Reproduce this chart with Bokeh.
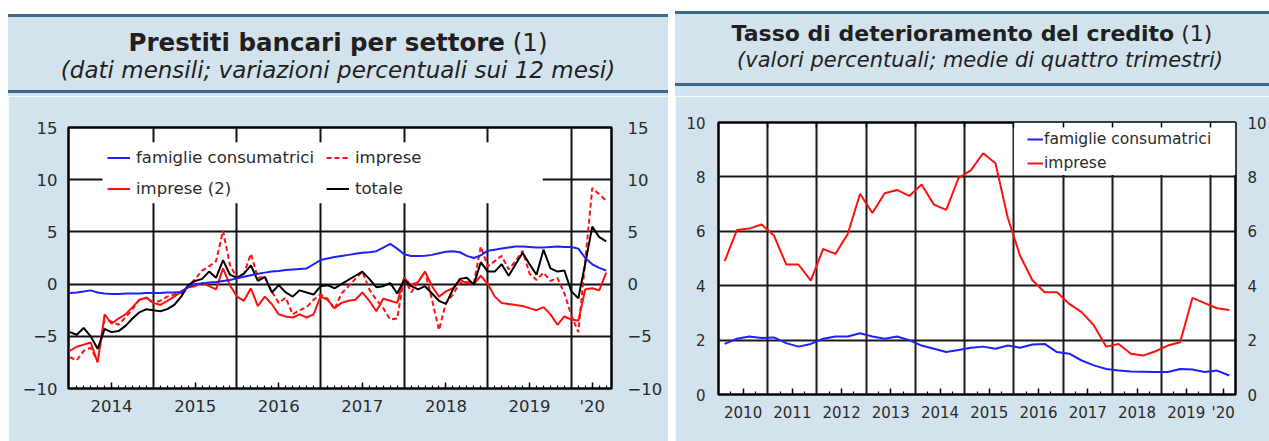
from bokeh.plotting import figure
from bokeh.models import (LinearAxis, FixedTicker, Legend, LegendItem, BoxAnnotation,
                          Div, Range1d, Spacer)
from bokeh.layouts import row, column
from bokeh.embed import file_html
from bokeh.resources import INLINE

# ---------------- data: left chart (monthly, Jan 2014 - Jun 2020) ----------------
famiglie_m = [-0.85, -0.8, -0.7, -0.6, -0.8, -0.9, -0.95, -0.95, -0.9, -0.9, -0.9, -0.85,
              -0.85, -0.85, -0.8, -0.8, -0.75, -0.3, 0.0, 0.05, 0.15, 0.2, 0.3, 0.4,
              0.55, 0.7, 0.85, 1.0, 1.1, 1.2, 1.25, 1.35, 1.4, 1.45, 1.5, 1.9,
              2.3, 2.45, 2.6, 2.7, 2.8, 2.9, 3.0, 3.05, 3.15, 3.5, 3.85, 3.4,
              2.85, 2.7, 2.7, 2.72, 2.8, 2.95, 3.1, 3.15, 3.05, 2.7, 2.5, 2.75,
              3.2, 3.3, 3.4, 3.5, 3.6, 3.6, 3.55, 3.5, 3.5, 3.55, 3.6, 3.55,
              3.55, 3.4, 2.5, 1.9, 1.55, 1.3]
imprese_m = [-7.0, -7.3, -6.4, -6.1, -7.4, -3.4, -3.6, -3.9, -3.2, -2.4, -1.5, -1.3,
             -1.8, -1.6, -1.2, -1.0, -0.85, -0.2, 0.5, 1.3, 1.7, 2.2, 5.1, 1.8,
             0.6, 1.0, 2.9, 0.6, 0.7, -0.7, -1.8, -1.3, -2.9, -2.5, -2.2, -1.5,
             -1.0, -1.4, -2.4, -0.9, -0.2, 0.5, 1.2, -0.5, -1.5, -2.3, -3.4, -3.3,
             0.7, -0.8, 0.2, 1.2, -1.5, -4.4, -1.8, -1.0, 0.1, 0.2, 0.1, 3.6,
             1.7, 2.2, 2.7, 1.4, 2.2, 3.2, 1.0, 0.4, 1.1, 0.3, 0.6, -0.9,
             -3.0, -4.6, 2.3, 9.2, 8.6, 8.0]
imprese2_m = [-6.4, -6.0, -5.8, -5.6, -7.5, -2.9, -3.8, -3.3, -2.9, -2.2, -1.5, -1.3,
              -1.8, -2.0, -1.6, -1.2, -0.7, -0.3, -0.2, 0.1, -0.2, -0.5, 1.5, -0.1,
              -1.2, -1.6, -0.4, -2.1, -1.2, -1.9, -2.9, -3.1, -3.2, -2.9, -3.2, -2.9,
              -1.2, -1.5, -2.3, -1.8, -1.6, -1.5, -0.8, -1.6, -2.6, -1.4, -1.6, -1.8,
              0.6, -0.1, 0.2, 1.2, -0.2, -1.2, -0.7, -0.4, 0.4, 0.1, 0.0, 0.8,
              0.0, -1.2, -1.8, -1.9, -2.0, -2.1, -2.3, -2.5, -2.2, -2.9, -3.9, -3.1,
              -3.4, -3.5, -0.5, -0.4, -0.6, 1.1]
totale_m = [-4.6, -4.85, -4.2, -5.0, -6.2, -4.3, -4.6, -4.5, -4.0, -3.3, -2.7, -2.4,
            -2.5, -2.6, -2.4, -2.0, -1.2, -0.1, 0.3, 0.5, 1.2, 0.6, 2.3, 0.9,
            0.6, 1.0, 1.8, 0.3, 0.7, -0.8, -0.1, -0.8, -1.2, -0.6, -0.8, -1.0,
            -0.2, -0.1, -0.4, 0.0, 0.4, 0.8, 1.2, 0.5, -0.3, -0.2, 0.1, -0.9,
            0.4, -0.2, -0.5, -0.2, -0.9, -1.6, -1.9, -0.5, 0.5, 0.6, -0.05, 2.1,
            1.2, 1.2, 1.9, 0.8, 1.9, 3.0, 1.9, 0.9, 3.3, 1.5, 1.2, 1.3,
            -0.7, -1.35, 2.0, 5.5, 4.5, 4.1]
left_years = [2014, 2015, 2016, 2017, 2018, 2019, 2020]
left_year_labels = ["2014", "2015", "2016", "2017", "2018", "2019", "'20"]
left_y_ticks = [-10, -5, 0, 5, 10, 15]

# ---------------- data: right chart (quarterly, 2010 Q1 - 2020 Q2) ----------------
famiglie_q = [1.86, 2.05, 2.13, 2.08,
              2.1, 1.89, 1.76, 1.86,
              2.05, 2.13, 2.13, 2.25,
              2.13, 2.05, 2.13, 2.0,
              1.8, 1.68, 1.56, 1.64,
              1.72, 1.76, 1.68, 1.8,
              1.72, 1.84, 1.86, 1.56,
              1.5, 1.25, 1.07, 0.94,
              0.88, 0.85, 0.84, 0.83,
              0.83, 0.94, 0.92, 0.83,
              0.88, 0.7]
imprese_q = [4.9, 6.05, 6.1, 6.25,
             5.85, 4.78, 4.78, 4.19,
             5.35, 5.17, 5.9, 7.38,
             6.67, 7.4, 7.52, 7.3,
             7.72, 6.98, 6.79, 7.96,
             8.24, 8.87, 8.5, 6.5,
             5.1, 4.2, 3.76, 3.76,
             3.33, 3.03, 2.54, 1.76,
             1.86, 1.5, 1.43, 1.59,
             1.8, 1.92, 3.55, 3.36,
             3.17, 3.11]
right_years = [2010, 2011, 2012, 2013, 2014, 2015, 2016, 2017, 2018, 2019, 2020]
right_year_labels = ["2010", "2011", "2012", "2013", "2014", "2015", "2016",
                     "2017", "2018", "2019", "'20"]
right_y_ticks = [0, 2, 4, 6, 8, 10]

# ---------------- styling ----------------
FONT = "DejaVu Sans"
BG = "#d3e3ed"
RULE = "#3b6b88"
TXT = "#2a2a2a"
BLUE = "#1f1fff"
RED = "#ff1010"


def year_label_positions(years):
    return [y + 0.5 for y in years[:-1]] + [years[-1] + 0.25]


t_m = [left_years[0] + i / 12 for i in range(len(famiglie_m))]
t_q = [right_years[0] + (i + 0.5) / 4 for i in range(len(famiglie_q))]


def header(width, height, top_rule, bottom_rule, title, subtitle, t_top, t_size, s_top, s_size, s_shift=0):
    html = f"""
<div style="position:relative;width:{width}px;height:{height}px;background:#ffffff;font-family:'{FONT}',sans-serif;color:#231f20;">
  <div style="position:absolute;left:0;top:{top_rule}px;width:{width}px;height:{height - top_rule}px;background:{BG};"></div>
  <div style="position:absolute;left:0;top:{top_rule}px;width:{width}px;height:3px;background:{RULE};"></div>
  <div style="position:absolute;left:0;top:{bottom_rule}px;width:{width}px;height:3px;background:{RULE};"></div>
  <div style="position:absolute;left:0;top:{t_top}px;width:{width}px;text-align:center;font-size:{t_size}px;line-height:{t_size + 4}px;white-space:nowrap;"><b>{title}</b> (1)</div>
  <div style="position:absolute;left:{s_shift}px;top:{s_top}px;width:{width}px;text-align:center;font-size:{s_size}px;line-height:{s_size + 4}px;font-style:italic;white-space:nowrap;">{subtitle}</div>
</div>"""
    return Div(text=html, width=width, height=height, margin=(0, 0, 0, 0))


def style_y(ax, ticks, size, standoff):
    ax.ticker = FixedTicker(ticks=ticks)
    ax.axis_line_color = None
    ax.major_tick_line_color = None
    ax.minor_tick_line_color = None
    ax.major_tick_in = 0
    ax.major_tick_out = 0
    ax.minor_tick_in = 0
    ax.minor_tick_out = 0
    ax.major_label_text_font = FONT
    ax.major_label_text_font_size = size
    ax.major_label_text_color = TXT
    ax.major_label_standoff = standoff


def style_x(ax, lab_pos, labels, minor, size, standoff):
    ax.ticker = FixedTicker(ticks=lab_pos, minor_ticks=minor)
    ax.major_label_overrides = {p: l for p, l in zip(lab_pos, labels)}
    ax.axis_line_color = None
    ax.major_tick_in = 6
    ax.major_tick_out = 0
    ax.minor_tick_in = 3
    ax.minor_tick_out = 0
    ax.major_tick_line_color = "black"
    ax.minor_tick_line_color = "black"
    ax.major_tick_line_width = 1.5
    ax.minor_tick_line_width = 1.2
    ax.major_label_text_font = FONT
    ax.major_label_text_font_size = size
    ax.major_label_text_color = TXT
    ax.major_label_standoff = standoff


# ---------------- left figure ----------------
p1 = figure(width=660, height=345,
            x_range=Range1d(2013.985, 2020.48), y_range=Range1d(-10, 15),
            output_backend="svg", toolbar_location=None,
            min_border_left=60, min_border_right=57, min_border_top=31, min_border_bottom=53,
            border_fill_color=BG, background_fill_color="white",
            outline_line_color="black", outline_line_width=2.5)

lab_pos1 = year_label_positions(left_years)
minor1 = [t for t in [left_years[0] + i / 12 for i in range(1, 78)] if abs(t - round(t)) > 1e-6]
style_x(p1.xaxis[0], lab_pos1, left_year_labels, minor1, "16.5px", 8)

style_y(p1.yaxis[0], left_y_ticks, "16.5px", 11)
ry1 = LinearAxis()
style_y(ry1, left_y_ticks, "16.5px", 16)
p1.add_layout(ry1, "right")

p1.xgrid.ticker = FixedTicker(ticks=left_years[1:])
p1.ygrid.ticker = FixedTicker(ticks=left_y_ticks[1:-1])
for g in (p1.xgrid, p1.ygrid):
    g.grid_line_color = "#111111"
    g.grid_line_width = 2

p1.add_layout(BoxAnnotation(left=2014.392, right=2019.658, bottom=7.75, top=13.59,
                            fill_color="white", fill_alpha=1.0, line_color=None,
                            level="underlay"))

r_imp2 = p1.line(t_m, imprese2_m, line_color=RED, line_width=2)
r_imp = p1.line(t_m, imprese_m, line_color=RED, line_width=2, line_dash="5 3")
r_tot = p1.line(t_m, totale_m, line_color="black", line_width=2)
r_fam = p1.line(t_m, famiglie_m, line_color=BLUE, line_width=2)

leg1 = Legend(items=[LegendItem(label="famiglie consumatrici", renderers=[r_fam]),
                     LegendItem(label="imprese", renderers=[r_imp]),
                     LegendItem(label="imprese (2)", renderers=[r_imp2]),
                     LegendItem(label="totale", renderers=[r_tot])],
              location=(39, 190), orientation="horizontal", ncols=2,
              label_text_font=FONT, label_text_font_size="16.5px", label_text_color=TXT,
              glyph_width=23, glyph_height=19, label_height=19, label_standoff=6,
              spacing=12, padding=6, margin=0,
              background_fill_alpha=0, border_line_color=None)
p1.add_layout(leg1)

# ---------------- right figure ----------------
p2 = figure(width=594, height=345,
            x_range=Range1d(2010.0, 2020.5), y_range=Range1d(0, 10),
            output_backend="svg", toolbar_location=None,
            min_border_left=43, min_border_right=32, min_border_top=26, min_border_bottom=47,
            border_fill_color=BG, background_fill_color="white",
            outline_line_color="black", outline_line_width=2.5)

lab_pos2 = year_label_positions(right_years)
minor2 = [t for t in [right_years[0] + i / 4 for i in range(1, 42)]
          if abs(t - round(t)) > 1e-6 and abs(abs(t - round(t)) - 0.5) > 1e-6]
style_x(p2.xaxis[0], lab_pos2, right_year_labels, minor2, "15px", 9)

style_y(p2.yaxis[0], right_y_ticks, "15px", 13)
ry2 = LinearAxis()
style_y(ry2, right_y_ticks, "15px", 12)
p2.add_layout(ry2, "right")

top2 = LinearAxis(ticker=FixedTicker(ticks=right_years[1:]),
                  major_label_overrides={y: "" for y in right_years},
                  axis_line_color=None, major_tick_in=5, major_tick_out=0,
                  major_tick_line_color="black", major_tick_line_width=1.5,
                  minor_tick_line_color=None, major_label_standoff=0,
                  major_label_text_font_size="1px")
p2.add_layout(top2, "above")

p2.xgrid.ticker = FixedTicker(ticks=right_years[1:])
p2.ygrid.ticker = FixedTicker(ticks=right_y_ticks[1:-1])
for g in (p2.xgrid, p2.ygrid):
    g.grid_line_color = "#1a1a1a"
    g.grid_line_width = 2

p2.add_layout(BoxAnnotation(left=2016.0, right=2020.5, bottom=8.07, top=10.0,
                            fill_color="white", fill_alpha=1.0, line_color=None,
                            level="underlay"))

q_fam = p2.line(t_q, famiglie_q, line_color=BLUE, line_width=2)
q_imp = p2.line(t_q, imprese_q, line_color=RED, line_width=2)

leg2 = Legend(items=[LegendItem(label="famiglie consumatrici", renderers=[q_fam]),
                     LegendItem(label="imprese", renderers=[q_imp])],
              location=(309, 222), orientation="vertical",
              label_text_font=FONT, label_text_font_size="15.5px", label_text_color=TXT,
              glyph_width=16, glyph_height=18, label_height=18, label_standoff=1,
              spacing=6, padding=6, margin=0,
              background_fill_alpha=0, border_line_color=None)
p2.add_layout(leg2)

# ---------------- headers & layout ----------------
h1 = header(660, 96, 14, 90, "Prestiti bancari per settore",
            "(dati mensili; variazioni percentuali sui 12 mesi)", 29, 24.5, 57, 23)
h2 = header(594, 96, 11, 83, "Tasso di deterioramento del credito",
            "(valori percentuali; medie di quattro trimestri)", 21, 22, 48, 21, 8)

left = column(h1, p1, spacing=0)
right = column(h2, p2, spacing=0)
layout = row(Spacer(width=8, height=441), left, right, spacing=0)
left.margin = (0, 7, 0, 0)

open("out.html", "w").write(file_html(layout, INLINE))
